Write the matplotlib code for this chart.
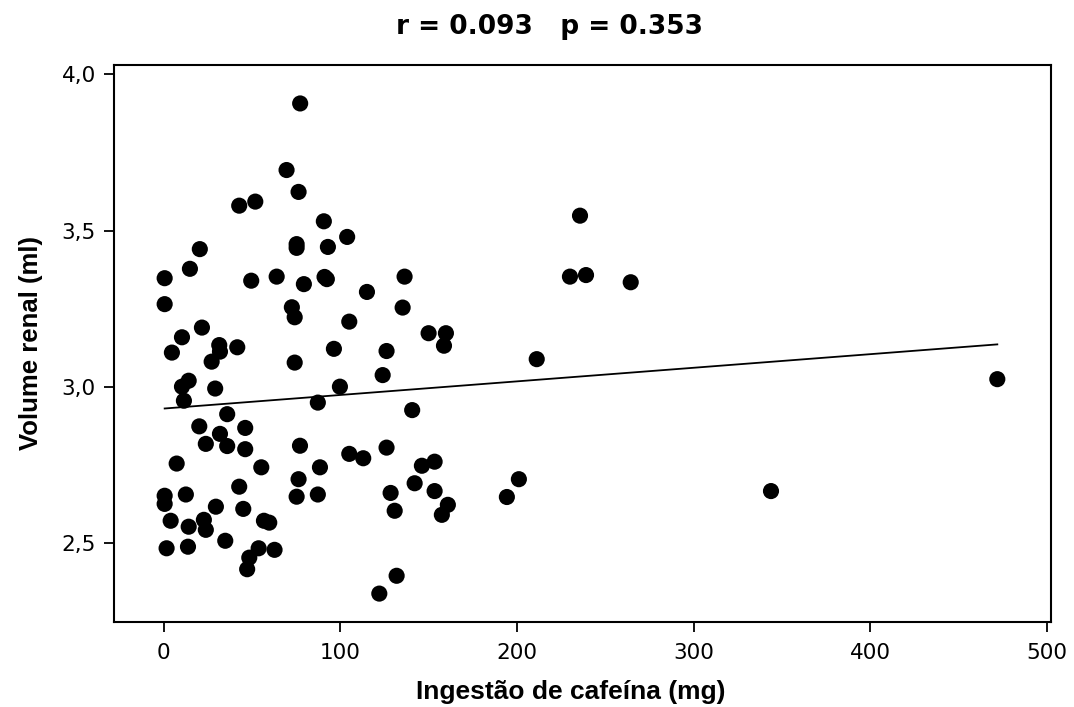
import numpy as np
import matplotlib
matplotlib.use("Agg")
import matplotlib.pyplot as plt

# caffeine intake (mg) per subject
cafeina = [77.3, 69.6, 76.4, 42.8, 51.9, 90.7, 103.9, 75.3, 75.3, 93.0,
           20.5, 14.9, 0.6, 0.6, 49.6, 64.0, 79.4, 91.1, 92.4, 136.4,
           115.1, 72.6, 74.2, 135.3, 105.1, 21.7, 10.4, 4.7, 31.5, 31.9,
           41.7, 96.4, 126.2, 150.0, 159.8, 158.7, 27.2, 74.2, 124.0, 99.8,
           14.2, 10.4, 11.5, 29.2, 87.3, 140.7, 36.0, 20.2, 31.9, 46.2,
           23.9, 36.0, 46.2, 77.2, 105.1, 113.0, 126.2, 7.4, 55.3, 88.5,
           76.4, 146.2, 153.4, 142.1, 153.4, 128.5, 42.8, 12.6, 0.6, 0.6,
           75.3, 87.3, 29.6, 45.1, 130.8, 160.9, 157.5, 4.0, 22.8, 23.9,
           14.2, 56.8, 59.8, 34.9, 1.7, 13.8, 53.8, 48.5, 47.3, 62.8,
           131.9, 122.1, 235.7, 230.0, 239.1, 264.4, 211.2, 201.1, 194.3, 471.9,
           343.8]

# kidney volume (ml)
volume = [3.907, 3.694, 3.624, 3.580, 3.593, 3.530, 3.480, 3.457, 3.445, 3.448,
          3.441, 3.378, 3.348, 3.265, 3.340, 3.353, 3.329, 3.352, 3.345, 3.353,
          3.304, 3.255, 3.223, 3.254, 3.209, 3.190, 3.159, 3.110, 3.134, 3.113,
          3.127, 3.122, 3.115, 3.172, 3.172, 3.132, 3.081, 3.078, 3.038, 3.001,
          3.020, 3.001, 2.956, 2.995, 2.950, 2.926, 2.913, 2.874, 2.850, 2.869,
          2.818, 2.811, 2.801, 2.812, 2.786, 2.772, 2.806, 2.755, 2.743, 2.743,
          2.705, 2.748, 2.761, 2.692, 2.667, 2.661, 2.681, 2.656, 2.652, 2.626,
          2.649, 2.656, 2.617, 2.610, 2.604, 2.623, 2.591, 2.572, 2.575, 2.543,
          2.553, 2.572, 2.566, 2.508, 2.484, 2.489, 2.484, 2.454, 2.417, 2.479,
          2.396, 2.339, 3.548, 3.353, 3.358, 3.335, 3.089, 2.705, 2.648, 3.025,
          2.667]

xticks = [0, 100, 200, 300, 400, 500]
yticks = [2.5, 3.0, 3.5, 4.0]
ytick_labels = ['2,5', '3,0', '3,5', '4,0']

x = np.array(cafeina)
y = np.array(volume)

fig = plt.figure(figsize=(10.74, 7.07), dpi=100)
ax = fig.add_axes([0.1061, 0.1206, 0.8725, 0.7879])

ax.scatter(x, y, s=135, color='black', edgecolors='none', zorder=3)

# linear fit over the data range
slope, intercept = np.polyfit(x, y, 1)
xl = np.array([x.min(), x.max()])
ax.plot(xl, intercept + slope * xl, color='black', lw=1.3, zorder=2)

ax.set_xlim(-28.1, 502.3)
ax.set_ylim(2.249, 4.031)
ax.set_xticks(xticks)
ax.set_xticklabels([str(t) for t in xticks])
ax.set_yticks(yticks)
ax.set_yticklabels(ytick_labels)

for sp in ax.spines.values():
    sp.set_linewidth(1.5)
ax.tick_params(length=7, width=1.3, labelsize=15.5, pad=6)
ax.tick_params(axis='x', pad=8)
for lbl in ax.get_xticklabels() + ax.get_yticklabels():
    lbl.set_family('DejaVu Sans')

ax.set_xlabel('Ingestão de cafeína (mg)', fontsize=19, fontweight='bold',
              family='Liberation Sans')
ax.xaxis.set_label_coords(0.488, -0.105)
ax.set_ylabel('Volume renal (ml)', fontsize=18.5, fontweight='bold',
              family='Liberation Sans', labelpad=13)

fig.text(0.512, 0.962, 'r = 0.093   p = 0.353', ha='center', va='center',
         fontsize=19, fontweight='bold', family='DejaVu Sans')

fig.savefig('out.png', dpi=100)
